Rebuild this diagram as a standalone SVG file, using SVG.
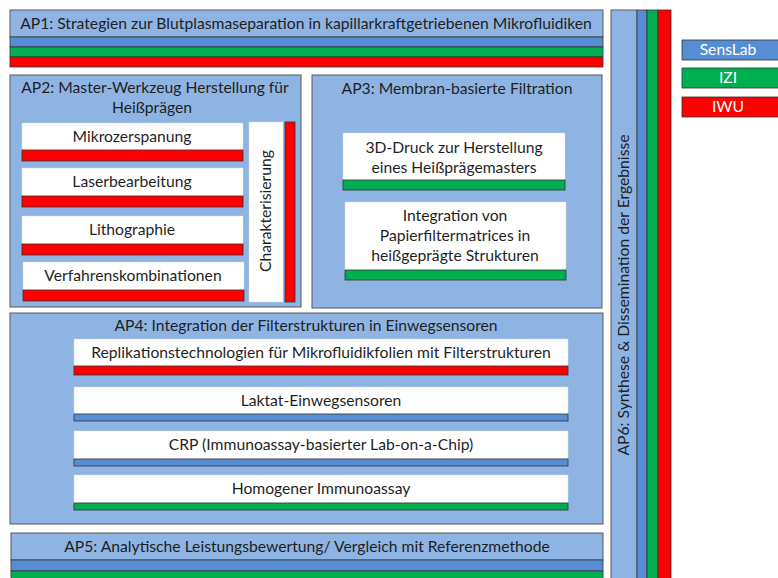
<svg xmlns="http://www.w3.org/2000/svg" width="778" height="578" viewBox="0 0 778 578">
<style>
.bg{fill:#8EB4E3;stroke:#595959;stroke-width:1}
.wb{fill:#FFFFFF;stroke:#D9D9D9;stroke-width:0.5}
.b{fill:#558ED5;stroke:#333;stroke-width:0.8}
.g{fill:#00B050;stroke:#333;stroke-width:0.8}
.r{fill:#FF0000;stroke:#333;stroke-width:0.8}
text{font-family:Lato,"Liberation Sans",sans-serif;font-size:15.7px;fill:#1F1F1F;text-anchor:middle}
.lg{fill:#FFFFFF}
</style>
<rect width="778" height="578" fill="#FFFFFF"/>
<g id="AP1">
<rect class="bg" x="10" y="10" width="593" height="27"/>
<rect class="b" x="10" y="37" width="593" height="10"/>
<rect class="g" x="10" y="47" width="593" height="10"/>
<rect class="r" x="10" y="57" width="593" height="10"/>
<text x="306" y="29">AP1: Strategien zur Blutplasmaseparation in kapillarkraftgetriebenen Mikrofluidiken</text>
</g>
<g id="AP6">
<rect class="bg" x="611" y="10" width="26" height="570"/>
<rect class="b" x="637" y="10" width="10" height="570"/>
<rect class="g" x="647" y="10" width="11" height="570"/>
<rect class="r" x="658" y="10" width="13" height="570"/>
<text transform="translate(629,295) rotate(-90)">AP6: Synthese &amp; Dissemination der Ergebnisse</text>
</g>
<g id="legend">
<g id="SensLab"><rect class="b" x="682" y="40" width="100" height="20"/><text class="lg" x="728" y="55">SensLab</text></g>
<g id="IZI"><rect class="g" x="682" y="68" width="100" height="20"/><text class="lg" x="728" y="83">IZI</text></g>
<g id="IWU"><rect class="r" x="682" y="97" width="100" height="20"/><text class="lg" x="728" y="112">IWU</text></g>
</g>
<g id="AP2">
<rect class="bg" x="10" y="75" width="291" height="232"/>
<text x="155" y="93">AP2: Master-Werkzeug Herstellung für</text>
<text x="152" y="113">Heißprägen</text>
</g>
<g id="Mikrozerspanung">
<rect class="wb" x="22" y="123" width="221" height="27"/>
<rect class="r" x="22" y="150" width="221" height="11"/>
<text x="132" y="142">Mikrozerspanung</text>
</g>
<g id="Laserbearbeitung">
<rect class="wb" x="22" y="168" width="221" height="28"/>
<rect class="r" x="22" y="196" width="221" height="11"/>
<text x="132" y="187">Laserbearbeitung</text>
</g>
<g id="Lithographie">
<rect class="wb" x="22" y="216" width="221" height="28"/>
<rect class="r" x="22" y="244" width="221" height="11"/>
<text x="132" y="235">Lithographie</text>
</g>
<g id="Verfahrenskombinationen">
<rect class="wb" x="23" y="262" width="221" height="28"/>
<rect class="r" x="23" y="290" width="221" height="11"/>
<text x="133" y="281">Verfahrenskombinationen</text>
</g>
<g id="Charakterisierung">
<rect class="wb" x="249" y="122" width="34" height="180"/>
<rect class="r" x="285" y="122" width="10" height="180"/>
<text transform="translate(271,211) rotate(-90)">Charakterisierung</text>
</g>
<g id="AP3">
<rect class="bg" x="312" y="75" width="290" height="233"/>
<text x="457" y="94">AP3: Membran-basierte Filtration</text>
</g>
<g id="DDruck">
<rect class="wb" x="343" y="133" width="222" height="47"/>
<rect class="g" x="343" y="180" width="222" height="10"/>
<text x="454" y="153">3D-Druck zur Herstellung</text>
<text x="454" y="173">eines Heißprägemasters</text>
</g>
<g id="Papierfilter">
<rect class="wb" x="345" y="202" width="221" height="68"/>
<rect class="g" x="345" y="270" width="221" height="10"/>
<text x="455" y="221">Integration von</text>
<text x="455" y="241">Papierfiltermatrices in</text>
<text x="455" y="261">heißgeprägte Strukturen</text>
</g>
<g id="AP4">
<rect class="bg" x="10" y="313" width="593" height="211"/>
<text x="306" y="331">AP4: Integration der Filterstrukturen in Einwegsensoren</text>
</g>
<g id="Replikation">
<rect class="wb" x="74" y="339" width="494" height="27"/>
<rect class="r" x="74" y="366" width="494" height="9"/>
<text x="321" y="358">Replikationstechnologien für Mikrofluidikfolien mit Filterstrukturen</text>
</g>
<g id="Laktat">
<rect class="wb" x="74" y="387" width="494" height="27"/>
<rect class="b" x="74" y="414" width="494" height="7"/>
<text x="321" y="406">Laktat-Einwegsensoren</text>
</g>
<g id="CRP">
<rect class="wb" x="74" y="431" width="494" height="28"/>
<rect class="b" x="74" y="459" width="494" height="7"/>
<text x="321" y="450">CRP (Immunoassay-basierter Lab-on-a-Chip)</text>
</g>
<g id="Homogener">
<rect class="wb" x="74" y="475" width="494" height="28"/>
<rect class="g" x="74" y="503" width="494" height="7"/>
<text x="321" y="494">Homogener Immunoassay</text>
</g>
<g id="AP5">
<rect class="bg" x="11" y="533" width="592" height="27"/>
<rect class="b" x="11" y="560" width="592" height="11"/>
<rect class="g" x="11" y="571" width="592" height="10"/>
<text x="307" y="552">AP5: Analytische Leistungsbewertung/ Vergleich mit Referenzmethode</text>
</g>
<g id="connectors"></g>
</svg>
